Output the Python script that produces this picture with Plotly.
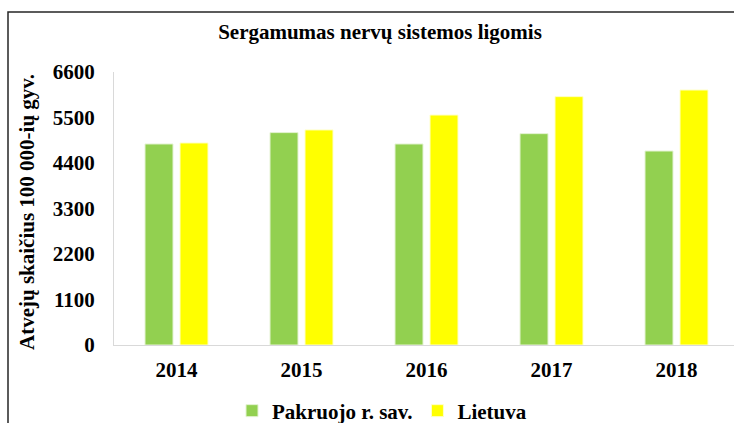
import plotly.graph_objects as go

years = ["2014", "2015", "2016", "2017", "2018"]
pakruojo = [4860, 5135, 4860, 5110, 4690]
lietuva = [4885, 5200, 5560, 6005, 6165]
y_ticks = [0, 1100, 2200, 3300, 4400, 5500, 6600]

title_text = "Sergamumas nervų sistemos ligomis"
y_title = "Atvejų skaičius 100 000-ių gyv."

FONT = "Liberation Serif"
W, H = 734, 423
L, R, T, B = 114, 0, 72, 78
pw, ph = W - L - R, H - T - B

def px_x(x):
    return (x - L) / pw

def px_y(y):
    return (H - B - y) / ph

fig = go.Figure()
fig.add_bar(x=years, y=pakruojo, name="Pakruojo r. sav.",
            marker=dict(color="#92D050", line=dict(color="#E4F3D2", width=1)))
fig.add_bar(x=years, y=lietuva, name="Lietuva",
            marker=dict(color="#FFFF00", line=dict(color="#FFFFC8", width=1)))

fig.update_layout(
    width=W, height=H,
    margin=dict(l=L, r=R, t=T, b=B, autoexpand=False),
    paper_bgcolor="white", plot_bgcolor="white",
    barmode="group", bargap=0.44, bargroupgap=0.2,
    font=dict(family=FONT, color="black", size=21, weight="bold"),
    title=dict(text=title_text, x=380 / W, xanchor="center",
               y=1 - 32 / H, yanchor="middle",
               font=dict(family=FONT, size=21, weight="bold")),
    showlegend=True,
    legend=dict(orientation="h", xref="container", yref="container",
                x=382 / W, xanchor="center",
                y=1 - 411 / H, yanchor="middle",
                font=dict(family=FONT, size=21, weight="bold"),
                itemwidth=30, tracegroupgap=0),
    xaxis=dict(range=[-0.5, 4.46], showline=True, linecolor="#D9D9D9",
               linewidth=1, ticks="", showgrid=False, automargin=False,
               ticklabelstandoff=6, fixedrange=True),
    yaxis=dict(range=[0, 6600], tickvals=y_ticks, showline=True,
               linecolor="#D9D9D9", linewidth=1, ticks="", showgrid=False,
               automargin=False, zeroline=False, ticklabelstandoff=14,
               fixedrange=True),
)

fig.add_annotation(text=y_title, textangle=-90, showarrow=False,
                   xref="paper", yref="paper", x=px_x(27), y=px_y(212),
                   xanchor="center", yanchor="middle",
                   font=dict(family=FONT, size=21, weight="bold"))

# outer chart frame (left and top edges)
fig.add_shape(type="path", xref="paper", yref="paper",
              path=f"M {px_x(8)},{px_y(440)} L {px_x(8)},{px_y(12)} L {px_x(740)},{px_y(12)}",
              line=dict(color="#262626", width=1.5))

fig.write_html("out.html")
